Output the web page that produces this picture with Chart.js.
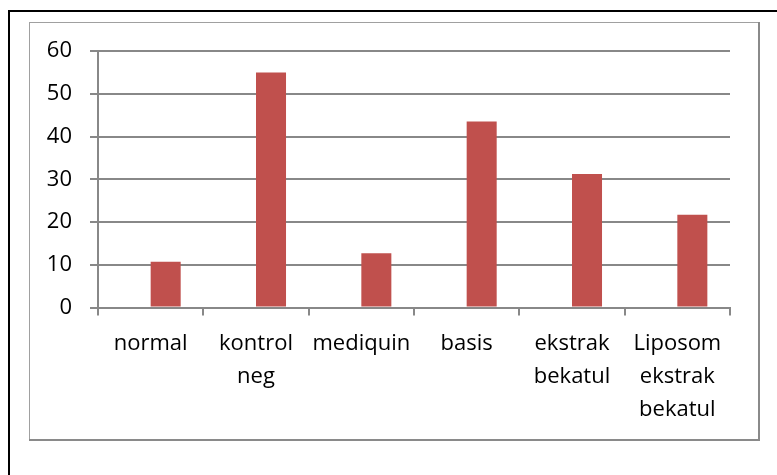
<!DOCTYPE html>
<html>
<head>
<meta charset="utf-8">
<script src="https://cdn.jsdelivr.net/npm/chart.js@4/dist/chart.umd.min.js"></script>
<style>
  html, body { margin: 0; padding: 0; background: #ffffff; }
  canvas { display: block; }
</style>
</head>
<body>
<canvas id="chart" width="777" height="475"></canvas>
<script>
// Treatment groups (multi-line labels as they wrap under each bar)
const categories = [
  ["normal"],
  ["kontrol", "neg"],
  ["mediquin"],
  ["basis"],
  ["ekstrak", "bekatul"],
  ["Liposom", "ekstrak", "bekatul"]
];
// First series of the sheet is empty; the second one holds the measurements
const emptySeries = [null, null, null, null, null, null];
const values = [10.7, 55, 12.7, 43.5, 31.2, 21.7];
const yTicks = { min: 0, max: 60, step: 10 };

const GRID = '#888888';
const BAR = '#C0504D';
const FONT = '"Open Sans", sans-serif';

// Frame lines around the chart: the page border and the chart-area box
const framePlugin = {
  id: 'frame',
  beforeDraw(chart) {
    const ctx = chart.ctx;
    ctx.save();
    ctx.fillStyle = '#ffffff';
    ctx.fillRect(0, 0, chart.width, chart.height);
    // page border (top and left edges)
    ctx.strokeStyle = '#000000';
    ctx.lineWidth = 2;
    ctx.beginPath();
    ctx.moveTo(9, chart.height);
    ctx.lineTo(9, 11);
    ctx.lineTo(chart.width, 11);
    ctx.stroke();
    // chart box
    ctx.strokeStyle = '#a0a0a0';
    ctx.lineWidth = 1;
    ctx.strokeRect(29.5, 22.5, 729.5, 417);
    ctx.strokeStyle = '#8a8a8a';
    ctx.lineWidth = 2;
    ctx.beginPath();
    ctx.moveTo(759, 22);
    ctx.lineTo(759, 440);
    ctx.lineTo(29, 440);
    ctx.stroke();
    ctx.restore();
  }
};

new Chart(document.getElementById('chart'), {
  type: 'bar',
  data: {
    labels: categories,
    datasets: [
      { data: emptySeries, backgroundColor: BAR },
      { data: values, backgroundColor: BAR }
    ]
  },
  options: {
    responsive: false,
    animation: false,
    events: [],
    layout: { padding: { top: 51, right: 47, bottom: 0, left: 0 } },
    plugins: {
      legend: { display: false },
      tooltip: { enabled: false }
    },
    datasets: {
      bar: { categoryPercentage: 0.57, barPercentage: 1.0 }
    },
    scales: {
      x: {
        afterFit(scale) { scale.height = 167.5; },
        grid: {
          display: true,
          drawOnChartArea: false,
          drawTicks: true,
          tickLength: 8,
          offset: true,
          color: GRID,
          lineWidth: 2
        },
        border: { display: true, color: GRID, width: 2 },
        ticks: {
          color: '#000000',
          font: { family: FONT, size: 22, lineHeight: 1.5 },
          padding: 12,
          maxRotation: 0,
          autoSkip: false
        }
      },
      y: {
        min: yTicks.min,
        max: yTicks.max,
        afterFit(scale) { scale.width = 98; },
        grid: {
          color: GRID,
          lineWidth: 2,
          drawTicks: true,
          tickLength: 8
        },
        border: { display: true, color: GRID, width: 2 },
        ticks: {
          stepSize: yTicks.step,
          color: '#000000',
          font: { family: FONT, size: 22 },
          padding: 18
        }
      }
    }
  },
  plugins: [framePlugin]
});
</script>
</body>
</html>
